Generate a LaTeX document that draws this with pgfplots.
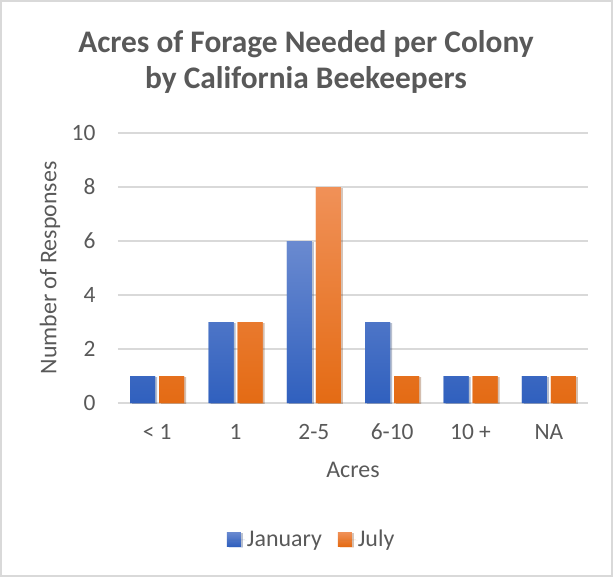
\documentclass[border=0pt]{standalone}
\usepackage{pgfplots}
\pgfplotsset{compat=1.18}
\usetikzlibrary{shadows}
\usepackage{fontspec}
\setmainfont{Carlito}
\definecolor{txt}{HTML}{595959}
\definecolor{gridc}{HTML}{D9D9D9}
\definecolor{bluetop}{HTML}{6A8AD0}
\definecolor{bluebot}{HTML}{3060BE}
\definecolor{bluemid}{HTML}{4472C4}
\definecolor{orgtop}{HTML}{F09158}
\definecolor{orgbot}{HTML}{E46B14}
\definecolor{orgmid}{HTML}{ED7D31}
\begin{document}
\begin{tikzpicture}
\useasboundingbox (0,0) rectangle (613bp,-577bp);
\draw[draw=gridc, line width=1.5bp] (1bp,-1bp) rectangle (612bp,-576bp);
\node[font=\fontsize{31.5}{38}\selectfont\bfseries, text=txt, anchor=base] at (306bp,-52bp) {Acres of Forage Needed per Colony};
\node[font=\fontsize{31.5}{38}\selectfont\bfseries, text=txt, anchor=base] at (306bp,-88bp) {by California Beekeepers};
\begin{axis}[
  at={(118bp,-403bp)}, anchor=south west,
  scale only axis, width=470bp, height=270bp,
  ymin=0, ymax=10, xmin=-0.5, xmax=5.5,
  ybar=4bp, bar width=25bp,
  ytick={0,2,4,6,8,10},
  xtick={0,1,2,3,4,5},
  xticklabels={{< 1},{1},{2-5},{6-10},{10 +},{NA}},
  axis line style={draw=none},
  major tick length=0pt,
  ymajorgrids,
  major grid style={draw=gridc, line width=1.4bp},
  /pgf/number format/assume math mode=true,
  tick label style={font=\fontsize{23.5}{27}\selectfont, text=txt},
  yticklabel style={xshift=-19bp},
  xticklabel style={anchor=base, yshift=-36bp},
  xlabel={Acres},
  ylabel={Number of Responses},
  label style={font=\fontsize{24}{28}\selectfont, text=txt},
  xlabel style={at={(rel axis cs:0.5,0)}, anchor=base, yshift=-74bp},
  ylabel style={at={(rel axis cs:-0.1447,0.5)}, anchor=center},
  legend columns=2,
  legend style={at={(0.412,-0.504)}, anchor=center, draw=none, fill=none,
    font=\fontsize{24}{28}\selectfont, text=txt,
    /tikz/every even column/.append style={column sep=14bp}},
]
\addplot[draw=none, fill=bluemid, top color=bluetop, bottom color=bluebot,
  drop shadow={shadow xshift=2bp, shadow yshift=-1bp, opacity=0.18, fill=black},
  legend image code/.code={\fill[top color=bluetop, bottom color=bluebot] (0bp,-7bp) rectangle (14bp,7bp); \path (0bp,0bp) -- (18bp,0bp);}]
  coordinates {(0,1) (1,3) (2,6) (3,3) (4,1) (5,1)};
\addplot[draw=none, fill=orgmid, top color=orgtop, bottom color=orgbot,
  drop shadow={shadow xshift=2bp, shadow yshift=-1bp, opacity=0.18, fill=black},
  legend image code/.code={\fill[top color=orgtop, bottom color=orgbot] (0bp,-7bp) rectangle (14bp,7bp); \path (0bp,0bp) -- (18bp,0bp);}]
  coordinates {(0,1) (1,3) (2,8) (3,1) (4,1) (5,1)};
\legend{January,July}
\end{axis}
\end{tikzpicture}
\end{document}
